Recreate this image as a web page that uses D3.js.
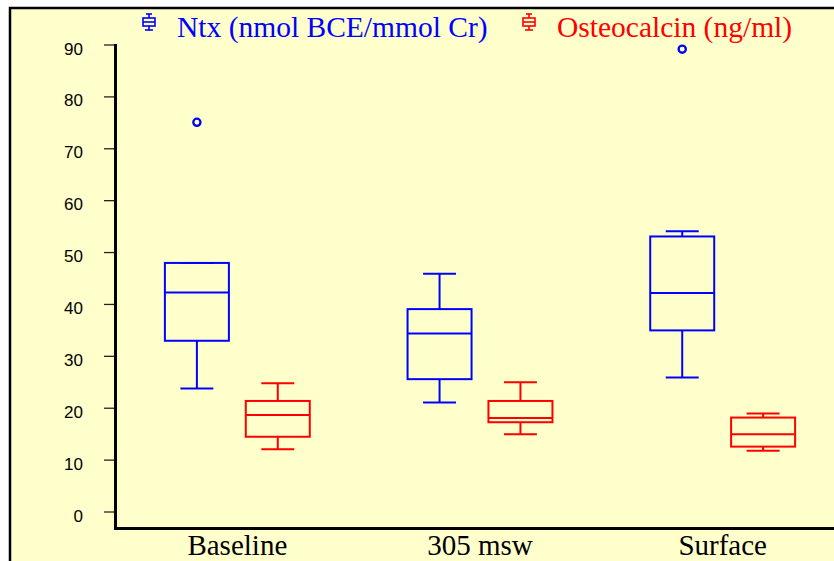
<!DOCTYPE html>
<html>
<head>
<meta charset="utf-8">
<script src="https://cdn.jsdelivr.net/npm/d3@7"></script>
<style>
  body { margin: 0; background: #fff; }
  svg { display: block; }
</style>
</head>
<body>
<div id="chart"></div>
<script>
// categories and series
const groups = ["Baseline", "305 msw", "Surface"];
const seriesNames = ["Ntx (nmol BCE/mmol Cr)", "Osteocalcin (ng/ml)"];
const seriesColors = ["#0000ff", "#ff0000"];

// box stats per group: [lowWhisker, q1, median, q3, highWhisker]
const ntxStats = [
  [23.8, 33.0, 42.3, 48.0, 48.0],
  [21.1, 25.6, 34.4, 39.1, 45.9],
  [25.9, 35.0, 42.2, 53.1, 54.1]
];
const osteoStats = [
  [12.1, 14.5, 18.7, 21.4, 24.8],
  [15.0, 17.3, 18.1, 21.4, 25.0],
  [11.8, 12.6, 15.0, 18.2, 19.0]
];
// outliers: [groupIndex, value]
const ntxOutliers = [[0, 75.1], [2, 89.2]];
const osteoOutliers = [];

const yTicks = [0, 10, 20, 30, 40, 50, 60, 70, 80, 90];

const W = 834, H = 561;
const svg = d3.select("#chart").append("svg")
    .attr("width", W)
    .attr("height", H);

// frame
svg.append("rect")
    .attr("x", 10).attr("y", 8)
    .attr("width", W + 20).attr("height", H + 20)
    .attr("fill", "#ffffcc")
    .attr("stroke", "#000")
    .attr("stroke-width", 2.5);

const x = d3.scaleBand()
    .domain(groups)
    .range([116, 844]);

const xSub = d3.scalePoint()
    .domain(seriesNames)
    .range([0, x.bandwidth()])
    .padding(1);

const y = d3.scaleLinear()
    .domain([0, 90])
    .range([512, 45]);

const boxW = 64, capW = 33;

// y axis ticks + labels
const yAxis = svg.append("g");
yAxis.selectAll("line.tick")
    .data(yTicks)
    .join("line")
    .attr("x1", 104).attr("x2", 115)
    .attr("y1", d => y(d)).attr("y2", d => y(d))
    .attr("stroke", "#222")
    .attr("stroke-width", 1.3);
yAxis.selectAll("text")
    .data(yTicks)
    .join("text")
    .attr("x", 83)
    .attr("y", d => y(d) + 9.5)
    .attr("text-anchor", "end")
    .style("font-family", "'Liberation Sans', Arial, sans-serif")
    .style("font-size", "17px")
    .attr("fill", "#000")
    .text(d => d);

// axis lines
svg.append("line")
    .attr("x1", 115.5).attr("x2", 115.5)
    .attr("y1", 44).attr("y2", 530)
    .attr("stroke", "#000").attr("stroke-width", 3);
svg.append("line")
    .attr("x1", 114).attr("x2", W + 10)
    .attr("y1", 528.5).attr("y2", 528.5)
    .attr("stroke", "#000").attr("stroke-width", 3);

// x labels
svg.selectAll("text.xlab")
    .data(groups)
    .join("text")
    .attr("class", "xlab")
    .attr("x", d => x(d) + x.bandwidth() / 2)
    .attr("y", 555)
    .attr("text-anchor", "middle")
    .style("font-family", "'Liberation Serif', 'Times New Roman', serif")
    .style("font-size", "29px")
    .attr("fill", "#000")
    .text(d => d);

// boxes
function drawSeries(stats, outliers, si) {
  const name = seriesNames[si], color = seriesColors[si];
  const g = svg.append("g")
      .attr("stroke", color)
      .attr("stroke-width", 2)
      .attr("fill", "none");
  stats.forEach((s, gi) => {
    const cx = x(groups[gi]) + xSub(name);
    const [lo, q1, med, q3, hi] = s;
    g.append("line").attr("x1", cx).attr("x2", cx).attr("y1", y(lo)).attr("y2", y(q1));
    g.append("line").attr("x1", cx).attr("x2", cx).attr("y1", y(q3)).attr("y2", y(hi));
    g.append("line").attr("x1", cx - capW / 2).attr("x2", cx + capW / 2).attr("y1", y(lo)).attr("y2", y(lo));
    g.append("line").attr("x1", cx - capW / 2).attr("x2", cx + capW / 2).attr("y1", y(hi)).attr("y2", y(hi));
    g.append("rect")
        .attr("x", cx - boxW / 2).attr("y", y(q3))
        .attr("width", boxW).attr("height", y(q1) - y(q3));
    g.append("line").attr("x1", cx - boxW / 2).attr("x2", cx + boxW / 2).attr("y1", y(med)).attr("y2", y(med));
  });
  g.selectAll("circle")
      .data(outliers)
      .join("circle")
      .attr("cx", d => x(groups[d[0]]) + xSub(name))
      .attr("cy", d => y(d[1]))
      .attr("r", 3.6)
      .attr("stroke-width", 2.3);
}
drawSeries(ntxStats, ntxOutliers, 0);
drawSeries(osteoStats, osteoOutliers, 1);

// legend
const legendX = [149, 529];
const legend = svg.selectAll("g.leg")
    .data(seriesNames)
    .join("g")
    .attr("class", "leg")
    .attr("transform", (d, i) => `translate(${legendX[i]},22)`);
legend.each(function(d, i) {
  const g = d3.select(this).append("g")
      .attr("stroke", seriesColors[i])
      .attr("stroke-width", 1.6)
      .attr("fill", "none");
  g.append("line").attr("x1", -3).attr("x2", 3).attr("y1", -8).attr("y2", -8);
  g.append("line").attr("x1", 0).attr("x2", 0).attr("y1", -8).attr("y2", -4);
  g.append("rect").attr("x", -6).attr("y", -4).attr("width", 12).attr("height", 8);
  g.append("line").attr("x1", -6).attr("x2", 6).attr("y1", 0).attr("y2", 0);
  g.append("line").attr("x1", 0).attr("x2", 0).attr("y1", 4).attr("y2", 8);
  g.append("line").attr("x1", -4).attr("x2", 4).attr("y1", 8).attr("y2", 8);
});
legend.append("text")
    .attr("x", 28)
    .attr("y", 15)
    .style("font-family", "'Liberation Serif', 'Times New Roman', serif")
    .style("font-size", "29.5px")
    .attr("fill", (d, i) => seriesColors[i])
    .text(d => d);
</script>
</body>
</html>
